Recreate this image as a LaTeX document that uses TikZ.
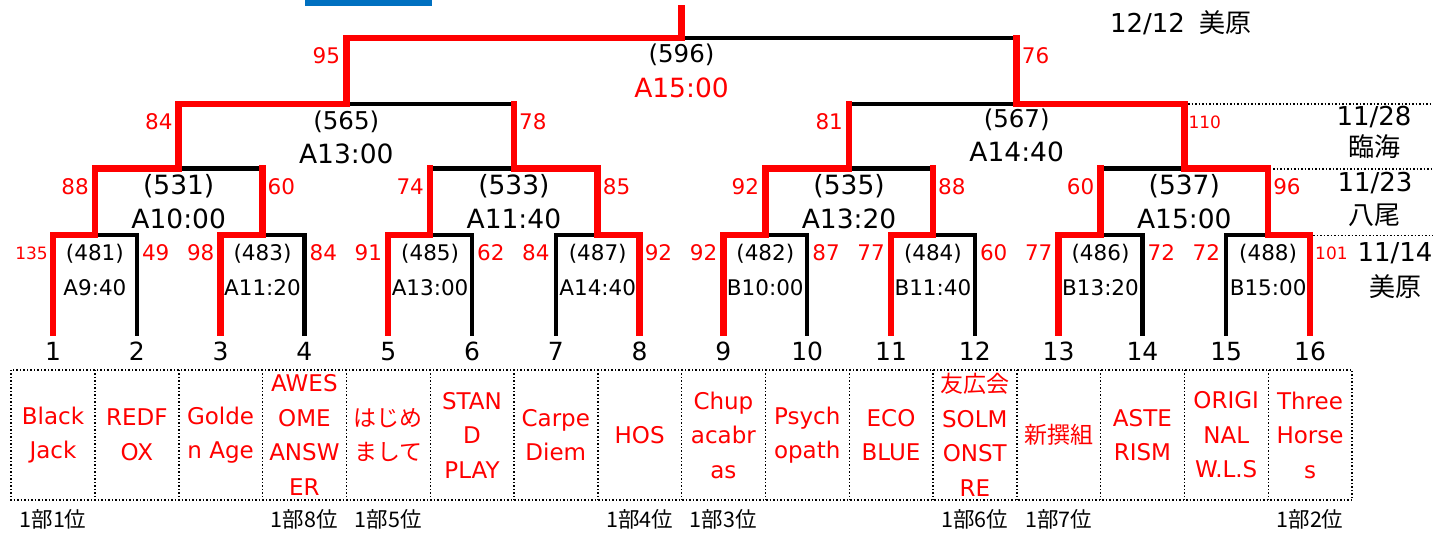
\documentclass[tikz,border=0pt]{standalone}
\usepackage{fontspec}
\setmainfont{DejaVu Sans}
\newfontfamily\jp{Noto Sans CJK JP}
\usetikzlibrary{positioning}
\definecolor{barblue}{RGB}{0,112,192}

\begin{document}
\begin{tikzpicture}[x=1pt,y=-1pt,
  win/.style={red,line width=6.5pt},
  lose/.style={black,line width=4.5pt},
  lost/.style={shorten >=-3.25pt},
  guide/.style={dotted,line width=1.5pt},
  r1text/.style={inner sep=0pt,font=\fontsize{21.5}{24}\selectfont},
  r3text/.style={inner sep=0pt,font=\fontsize{24.5}{28}\selectfont},
  big/.style={inner sep=0pt,font=\fontsize{26.5}{30}\selectfont},
  score/.style={r1text,red},
  smallscore/.style={red,inner sep=0pt,font=\fontsize{17}{19}\selectfont},
  seed/.style={inner sep=0pt,font=\fontsize{25}{28}\selectfont},
  team/.style={red,minimum width=83.8pt,minimum height=130pt,align=center,
    font=\fontsize{23}{34.5}\selectfont},
  rank/.style={inner sep=0pt,font=\jp\fontsize{21.5}{24}\selectfont},
  date/.style={inner sep=0pt,font=\fontsize{26}{30}\selectfont},
  place/.style={inner sep=0pt,font=\jp\fontsize{26}{30}\selectfont}]
  \useasboundingbox (0,0) rectangle (1433,534);
  \fill[barblue] (305,0) rectangle (432,5.7);

  % bracket points
  \foreach \i in {1,...,16}
    \coordinate (b\i) at ({53+83.8*(\i-1)},336);
  \foreach \k in {1,...,8}
    \coordinate (j\k) at ({94.9+167.6*(\k-1)},235);
  \foreach \k in {1,...,4}
    \coordinate (k\k) at ({178.7+335.2*(\k-1)},168.5);
  \coordinate (q1) at (346.3,104);
  \coordinate (q2) at (1016.7,104);
  \coordinate (f) at (681.5,38);
  \coordinate (top) at (681.5,5);

  % losing halves
  \foreach \l/\k in {2/1,4/2,6/3,7/4,10/5,12/6,14/7,15/8}
    \draw[lose] (b\l) |- (j\k);
  \foreach \c/\p in {j2/k1,j3/k2,j6/k3,j7/k4,k2/q1,k3/q2,q2/f}
    \draw[lose] (\c |- \p) -- (\p);

  % winning paths
  \draw[win] (b1) |- (j1) |- (k1) |- (q1) |- (f) -- (top);
  \draw[win,lost] (b3) |- (j2) -- (j2 |- k1);
  \draw[win,lost] (b5) |- (j3) -- (j3 |- k2);
  \draw[win,lost] (b8) |- (j4) |- (k2) -- (k2 |- q1);
  \draw[win,lost] (b9) |- (j5) |- (k3) -- (k3 |- q2);
  \draw[win,lost] (b11) |- (j6) -- (j6 |- k3);
  \draw[win,lost] (b13) |- (j7) -- (j7 |- k4);
  \draw[win,lost] (b16) |- (j8) |- (k4) |- (q2) -- (q2 |- f);

  % scores
  \foreach \c/\p/\s in {b3/j2/98,b5/j3/91,b7/j4/84,b9/j5/92,b11/j6/77,b13/j7/77,
      b15/j8/72,j1/k1/88,j3/k2/74,j5/k3/92,j7/k4/60,k1/q1/84,k3/q2/81,q1/f/95}
    \node[score,anchor=east,xshift=-6pt,yshift=-18pt] (sl\c) at (\c |- \p) {\s};
  \foreach \c/\p/\s in {b2/j1/49,b4/j2/84,b6/j3/62,b8/j4/92,b10/j5/87,b12/j6/60,
      b14/j7/72,j2/k1/60,j4/k2/85,j6/k3/88,j8/k4/96,k2/q1/78,q2/f/76}
    \node[score,anchor=west,xshift=5pt,yshift=-18pt] (sr\c) at (\c |- \p) {\s};
  \node[smallscore,anchor=east,xshift=-5pt,yshift=-18pt] (slb1) at (b1 |- j1) {135};
  \node[smallscore,anchor=west,xshift=5pt,yshift=-18pt] (srb16) at (b16 |- j8) {101};
  \node[smallscore,anchor=west,xshift=4pt,yshift=-18pt] (srk4) at (k4 |- q2) {110};

  % games
  \foreach \k/\n/\t in {1/481/A9:40,2/483/A11:20,3/485/A13:00,4/487/A14:40,
      5/482/B10:00,6/484/B11:40,7/486/B13:20,8/488/B15:00}{
    \node[r1text] (g\n) at ([yshift=-19pt]j\k) {(\n)};
    \node[r1text] (h\n) at ([yshift=-53pt]j\k) {\t};
  }
  \foreach \k/\n/\t in {1/531/A10:00,2/533/A11:40,3/535/A13:20,4/537/A15:00}{
    \node[big] (g\n) at ([yshift=-17.5pt]k\k) {(\n)};
    \node[big] (h\n) at ([yshift=-50.5pt]k\k) {\t};
  }
  \node[r3text] (g565) at ([yshift=-18pt]q1) {(565)};
  \node[big] (h565) at ([yshift=-49.5pt]q1) {A13:00};
  \node[r3text] (g567) at ([yshift=-16pt]q2) {(567)};
  \node[big] (h567) at ([yshift=-47.5pt]q2) {A14:40};
  \node[r3text] (g596) at ([yshift=-17pt]f) {(596)};
  \node[big,red] (h596) at ([yshift=-49.5pt]f) {A15:00};

  % seeds and teams
  \foreach \i in {1,...,16}
    \node[seed,below=6pt of b\i] (n\i) {\i};
  \foreach \i/\t in {1/{Black\\Jack},2/{REDF\\OX},3/{Golde\\n Age},
      4/{AWES\\OME\\ANSW\\ER},5/{{\jp はじめ}\\{\jp まして}},6/{STAN\\D\\PLAY},
      7/{Carpe\\Diem},8/{HOS},9/{Chup\\acabr\\as},10/{Psych\\opath},
      11/{ECO\\BLUE},12/{{\jp 友広会}\\SOLM\\ONST\\RE},13/{{\jp 新撰組}},
      14/{ASTE\\RISM},15/{ORIGI\\NAL\\W.L.S},16/{Three\\Horse\\s}}
    \node[team] (team\i) at ([yshift=-99pt]b\i) {\t};
  \draw[guide] (team1.north west) rectangle (team16.south east);
  \foreach \i in {1,...,15}
    \draw[guide] (team\i.north east) -- (team\i.south east);
  \foreach \i/\r in {1/1,4/8,5/5,8/4,9/3,12/6,13/7,16/2}
    \node[rank,below=8.7pt of team\i] (rank\i) {1部\r{}位};

  % days
  \draw[guide] (1188,104) -- (1433,104);
  \draw[guide] (1273,169) -- (1433,169);
  \draw[guide] (1313,235.5) -- (1433,235.5);
  \node[date] (day4) at (1181,23) {12/12\hspace{15pt}{\jp 美原}};
  \node[date] (day3) at (1374,117.5) {11/28};
  \node[place] (site3) at (1374,147) {臨海};
  \node[date] (day2) at (1375,183) {11/23};
  \node[place] (site2) at (1374,215) {八尾};
  \node[date] (day1) at (1395,253.5) {11/14};
  \node[place] (site1) at (1395,287) {美原};
\end{tikzpicture}
\end{document}
